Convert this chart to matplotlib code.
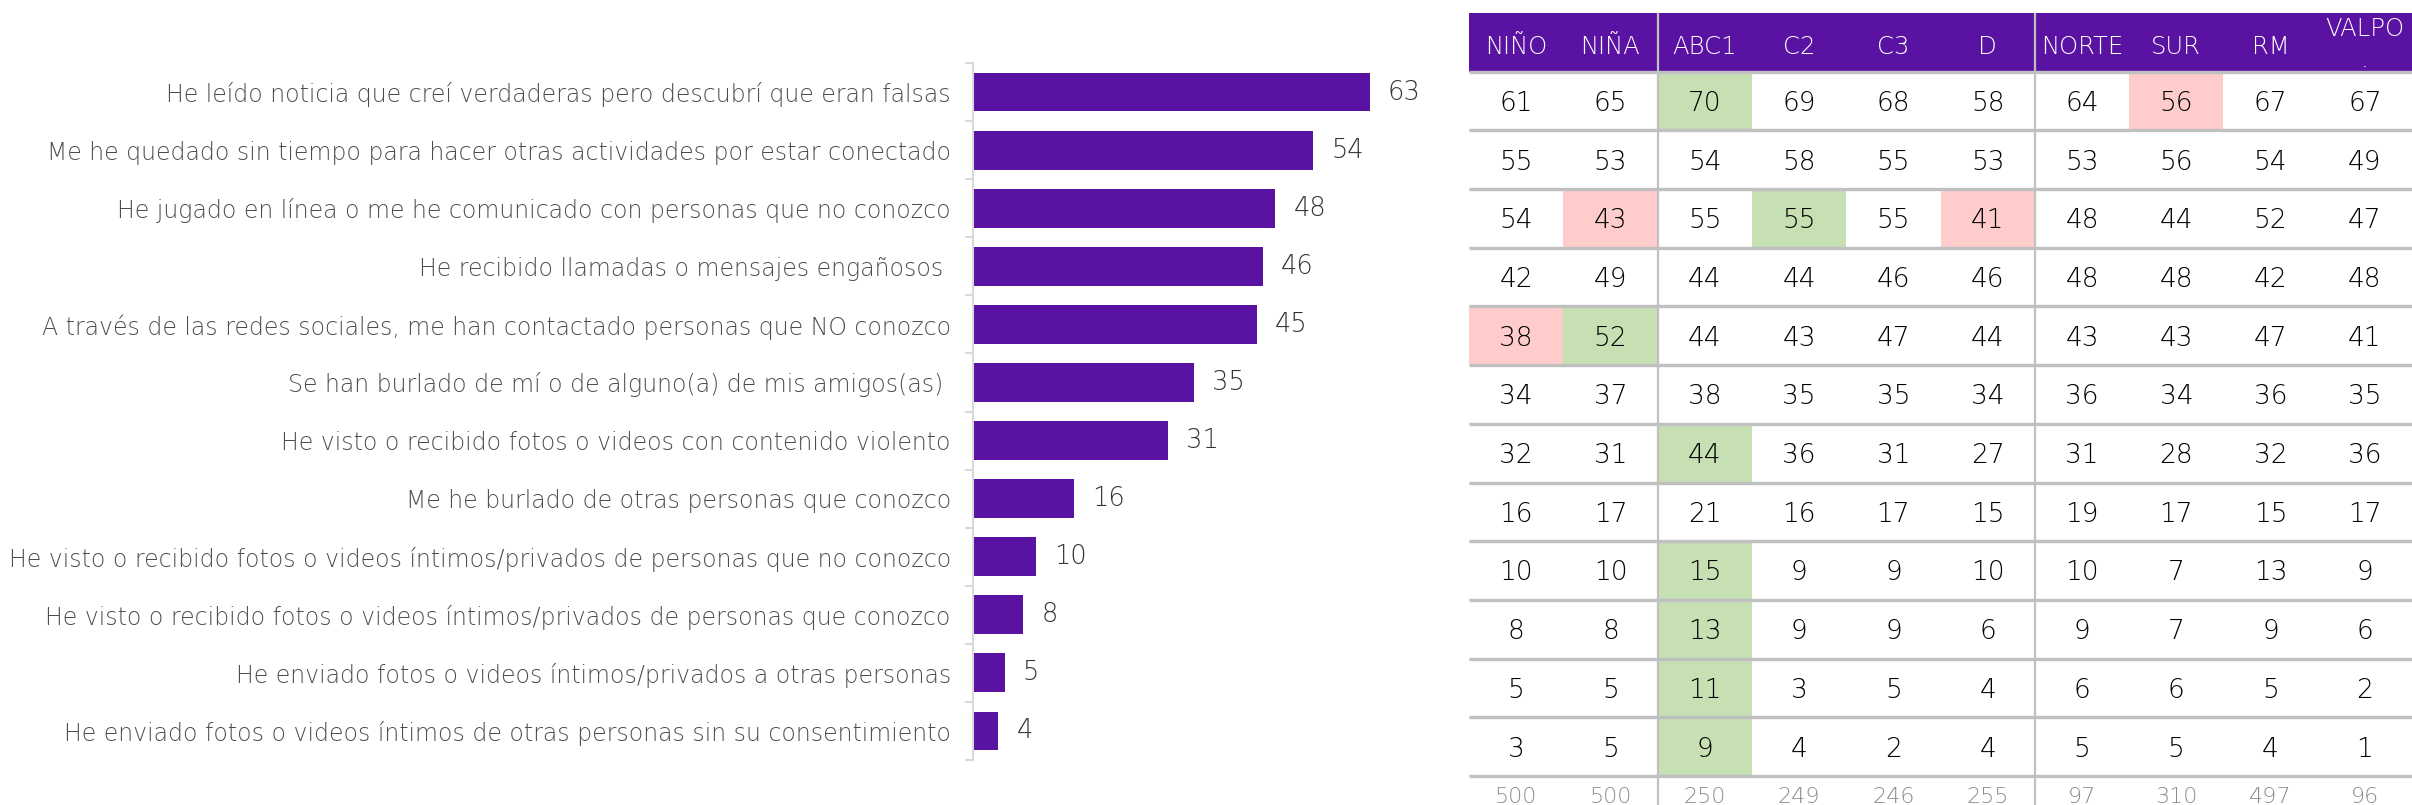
"""Bar chart of online experiences plus breakdown table by group."""

import matplotlib
matplotlib.use("Agg")
import matplotlib.pyplot as plt
from matplotlib.patches import Rectangle
import numpy as np

W, H = 2412, 805

ITEMS = [
    "He leído noticia que creí verdaderas pero descubrí que eran falsas",
    "Me he quedado sin tiempo para hacer otras actividades por estar conectado",
    "He jugado en línea o me he comunicado con personas que no conozco",
    "He recibido llamadas o mensajes engañosos ",
    "A través de las redes sociales, me han contactado personas que NO conozco",
    "Se han burlado de mí o de alguno(a) de mis amigos(as) ",
    "He visto o recibido fotos o videos con contenido violento",
    "Me he burlado de otras personas que conozco",
    "He visto o recibido fotos o videos íntimos/privados de personas que no conozco",
    "He visto o recibido fotos o videos íntimos/privados de personas que conozco",
    "He enviado fotos o videos íntimos/privados a otras personas",
    "He enviado fotos o videos íntimos de otras personas sin su consentimiento",
]
TOTALS = [63, 54, 48, 46, 45, 35, 31, 16, 10, 8, 5, 4]

COLUMNS = ["NIÑO", "NIÑA", "ABC1", "C2", "C3", "D", "NORTE", "SUR", "RM", "VALPO\n."]
TABLE = [
    [61, 65, 70, 69, 68, 58, 64, 56, 67, 67],
    [55, 53, 54, 58, 55, 53, 53, 56, 54, 49],
    [54, 43, 55, 55, 55, 41, 48, 44, 52, 47],
    [42, 49, 44, 44, 46, 46, 48, 48, 42, 48],
    [38, 52, 44, 43, 47, 44, 43, 43, 47, 41],
    [34, 37, 38, 35, 35, 34, 36, 34, 36, 35],
    [32, 31, 44, 36, 31, 27, 31, 28, 32, 36],
    [16, 17, 21, 16, 17, 15, 19, 17, 15, 17],
    [10, 10, 15, 9, 9, 10, 10, 7, 13, 9],
    [8, 8, 13, 9, 9, 6, 9, 7, 9, 6],
    [5, 5, 11, 3, 5, 4, 6, 6, 5, 2],
    [3, 5, 9, 4, 2, 4, 5, 5, 4, 1],
]
BASES = [500, 500, 250, 249, 246, 255, 97, 310, 497, 96]
GREEN_CELLS = [(0, 2), (2, 3), (4, 1), (6, 2), (8, 2), (9, 2), (10, 2), (11, 2)]
RED_CELLS = [(0, 7), (2, 1), (2, 5), (4, 0)]
GROUP_SPLITS = [2, 6]

PURPLE = "#5a12a2"
GREEN = "#c6e0b4"
RED = "#ffcccc"
GRID = "#c0c0c0"

plt.rcParams["font.family"] = ["DejaVu Sans"]


def px_axes(fig, left, top, right, bottom):
    return fig.add_axes([left / W, 1 - bottom / H, (right - left) / W, (bottom - top) / H])


fig = plt.figure(figsize=(W / 100, H / 100), dpi=100)

# --- bars ---
ax = px_axes(fig, 973, 63, 973 + 6.3 * 70, 760)
y = np.arange(len(TOTALS))
ax.barh(y, TOTALS, height=0.67, color=PURPLE)
ax.set_xlim(0, 70)
ax.set_ylim(len(TOTALS) - 0.5, -0.5)
for s in ["top", "right", "bottom"]:
    ax.spines[s].set_visible(False)
ax.spines["left"].set_color("#d9d9d9")
ax.spines["left"].set_linewidth(1.5)
ax.set_xticks([])
ax.set_yticks(y, labels=ITEMS)
ax.set_yticks(np.arange(-0.5, len(TOTALS), 1), minor=True)
ax.tick_params(axis="y", which="major", length=0, pad=16, labelsize=17,
               labelcolor="#4d4d4d")
ax.tick_params(axis="y", which="minor", length=6, width=1.5, color="#d9d9d9")
for lbl in ax.get_yticklabels():
    lbl.set_fontweight("light")
for i, v in enumerate(TOTALS):
    ax.annotate(f"{v}", (v, i), xytext=(13, 0), textcoords="offset points",
                ha="left", va="center", fontsize=18.5, color="#333333",
                fontweight="light")

# --- table ---
nrows = len(TABLE)
ncols = len(COLUMNS)
row_px = 58.7
at = px_axes(fig, 1469, 13, 2412, 805)
at.set_xlim(0, ncols)
at.set_ylim(-1 + (805 - 13) / row_px, -1)
at.axis("off")

at.add_patch(Rectangle((0, -1), ncols, 1, color=PURPLE, lw=0))
for r, c in GREEN_CELLS:
    at.add_patch(Rectangle((c, r), 1, 1, color=GREEN, lw=0))
for r, c in RED_CELLS:
    at.add_patch(Rectangle((c, r), 1, 1, color=RED, lw=0))

at.hlines(np.arange(0, nrows + 1), 0, ncols, color=GRID, lw=2.4)
at.vlines(GROUP_SPLITS, -1, -1 + (805 - 13) / row_px, color=GRID, lw=1.6)

for c, name in enumerate(COLUMNS):
    if "\n" in name:
        at.text(c + 0.5, -0.46, name, ha="center", va="center", color="white",
                fontsize=17.5, fontweight="light", linespacing=1.35, zorder=4)
    else:
        at.text(c + 0.5, -0.42, name, ha="center", va="center", color="white",
                fontsize=17.5, fontweight="light")

for r, row in enumerate(TABLE):
    for c, v in enumerate(row):
        at.text(c + 0.5, r + 0.54, f"{v}", ha="center", va="center",
                fontsize=19, color="black", fontweight="light")

for c, b in enumerate(BASES):
    at.text(c + 0.5, nrows + 0.36, f"{b}", ha="center", va="center",
            fontsize=16, color="#8c8c8c", fontweight="light")

fig.savefig("out.png", dpi=100)
